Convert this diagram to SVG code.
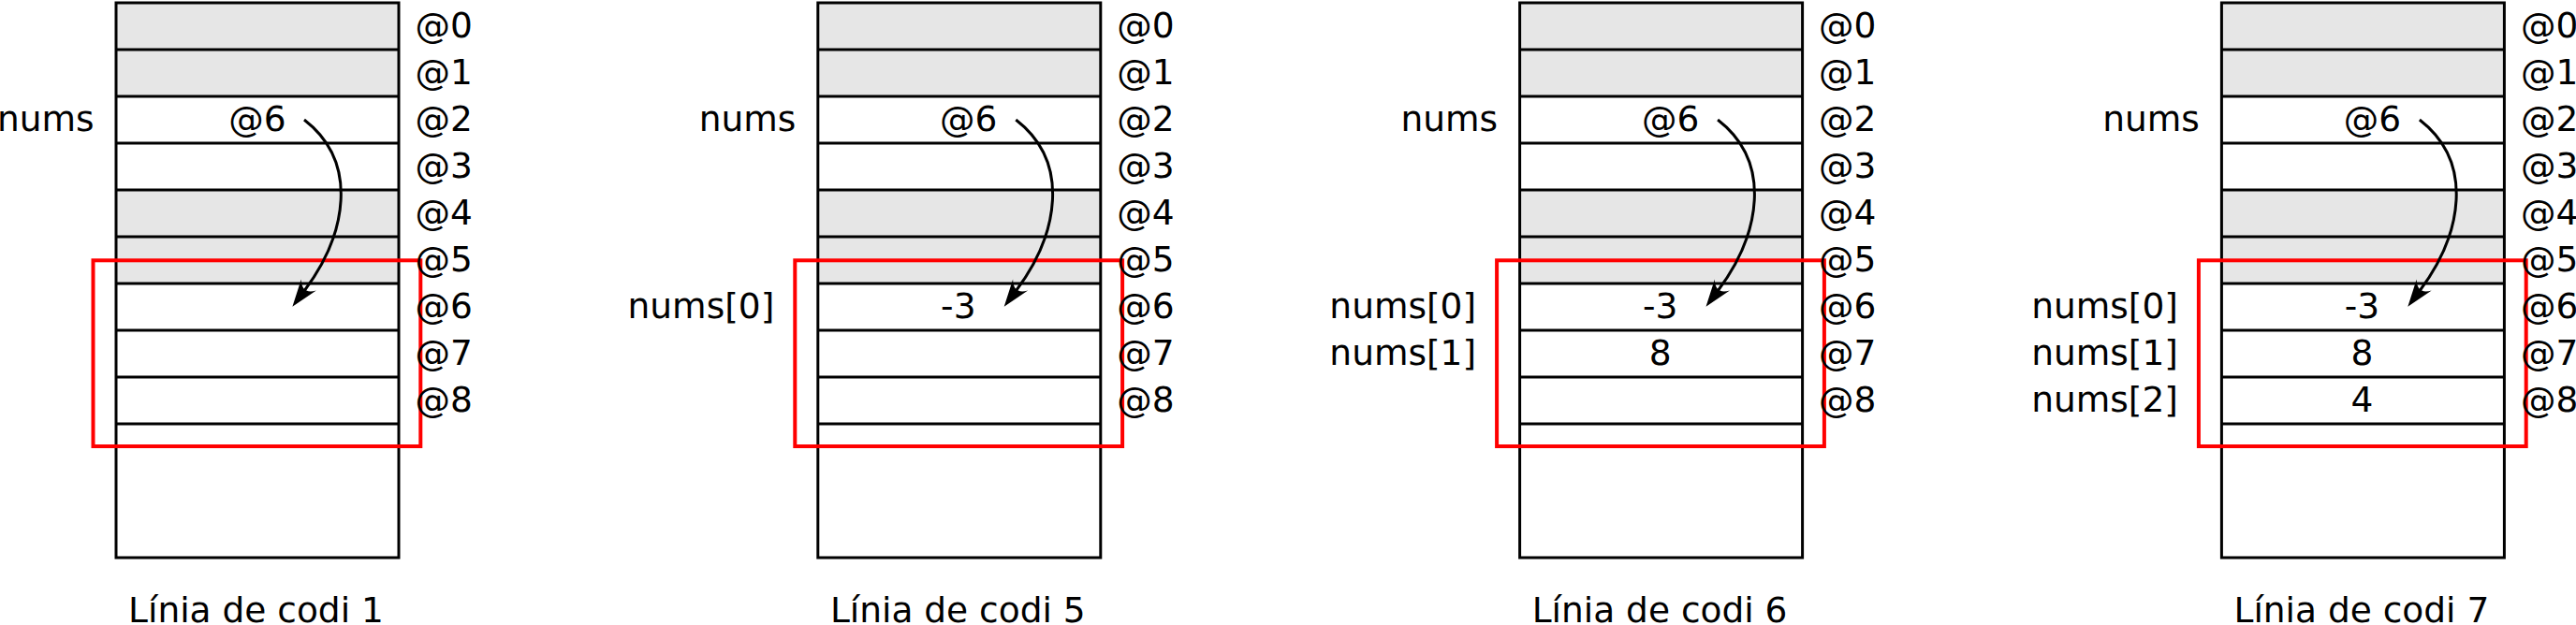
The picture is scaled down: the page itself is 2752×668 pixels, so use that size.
<svg xmlns="http://www.w3.org/2000/svg" width="2752" height="668" viewBox="0 0 2752 668">
<style>
.bg{fill:#fff}
.gray{fill:#e6e6e6}
.ln{fill:none;stroke:#000;stroke-width:3}
.sel{fill:none;stroke:#f00;stroke-width:4}
text{font-family:"DejaVu Sans",sans-serif;font-size:37.5px;fill:#000}
.m{text-anchor:middle}
.e{text-anchor:end}
.arrow{fill:none;stroke:#000;stroke-width:3;marker-end:url(#ah)}
</style>
<defs>
<marker id="ah" markerUnits="userSpaceOnUse" orient="auto" markerWidth="60" markerHeight="60" viewBox="-30 -30 60 60" refX="0" refY="0" overflow="visible">
<path d="M21,0 L-8,-10 Q5,0 -8,10 Z" fill="#000"/>
</marker>
<g id="memory">
<rect class="bg" x="124" y="3" width="302" height="593"/>
<rect class="gray" x="124" y="3" width="302" height="100"/>
<rect class="gray" x="124" y="203" width="302" height="100"/>
<path class="ln" d="M124 53H426M124 103H426M124 153H426M124 203H426M124 253H426M124 303H426M124 353H426M124 403H426M124 453H426"/>
<rect class="ln" x="124" y="3" width="302" height="593"/>
</g>
<g id="addrs">
<text x="443.5" y="39.5">@0</text>
<text x="443.5" y="89.5">@1</text>
<text x="443.5" y="139.5">@2</text>
<text x="443.5" y="189.5">@3</text>
<text x="443.5" y="239.5">@4</text>
<text x="443.5" y="289.5">@5</text>
<text x="443.5" y="339.5">@6</text>
<text x="443.5" y="389.5">@7</text>
<text x="443.5" y="439.5">@8</text>
</g>
</defs>

<g id="panel1">
<use href="#memory"/>
<rect class="sel" x="99.5" y="278.3" width="349.8" height="198.7"/>
<use href="#addrs"/>
<text class="e" x="100.5" y="139.5">nums</text>
<text class="m" x="275" y="139.5">@6</text>
<text class="m" x="273.5" y="665">Línia de codi 1</text>
</g>

<g id="panel2" transform="translate(749.8,0)">
<use href="#memory"/>
<rect class="sel" x="99.5" y="278.3" width="349.8" height="198.7"/>
<use href="#addrs"/>
<text class="e" x="100.5" y="139.5">nums</text>
<text class="m" x="285" y="139.5">@6</text>
<text class="e" x="77.5" y="339.5">nums[0]</text>
<text class="m" x="274" y="339.5">-3</text>
<text class="m" x="273.5" y="665">Línia de codi 5</text>
</g>

<g id="panel3" transform="translate(1499.6,0)">
<use href="#memory"/>
<rect class="sel" x="99.5" y="278.3" width="349.8" height="198.7"/>
<use href="#addrs"/>
<text class="e" x="100.5" y="139.5">nums</text>
<text class="m" x="285" y="139.5">@6</text>
<text class="e" x="77.5" y="339.5">nums[0]</text>
<text class="m" x="274" y="339.5">-3</text>
<text class="e" x="77.5" y="389.5">nums[1]</text>
<text class="m" x="274" y="389.5">8</text>
<text class="m" x="273.5" y="665">Línia de codi 6</text>
</g>

<g id="panel4" transform="translate(2249.4,0)">
<use href="#memory"/>
<rect class="sel" x="99.5" y="278.3" width="349.8" height="198.7"/>
<use href="#addrs"/>
<text class="e" x="100.5" y="139.5">nums</text>
<text class="m" x="285" y="139.5">@6</text>
<text class="e" x="77.5" y="339.5">nums[0]</text>
<text class="m" x="274" y="339.5">-3</text>
<text class="e" x="77.5" y="389.5">nums[1]</text>
<text class="m" x="274" y="389.5">8</text>
<text class="e" x="77.5" y="439.5">nums[2]</text>
<text class="m" x="274" y="439.5">4</text>
<text class="m" x="273.5" y="665">Línia de codi 7</text>
</g>

<g id="connectors">
<path class="arrow" d="M325,128 C384.3,173.8 370,251 325,311"/>
<path class="arrow" d="M1085.3,128 C1144.6,173.8 1130.3,251 1085.3,311"/>
<path class="arrow" d="M1835.1,128 C1894.4,173.8 1880.1,251 1835.1,311"/>
<path class="arrow" d="M2584.9,128 C2644.2,173.8 2629.9,251 2584.9,311"/>
</g>
</svg>
